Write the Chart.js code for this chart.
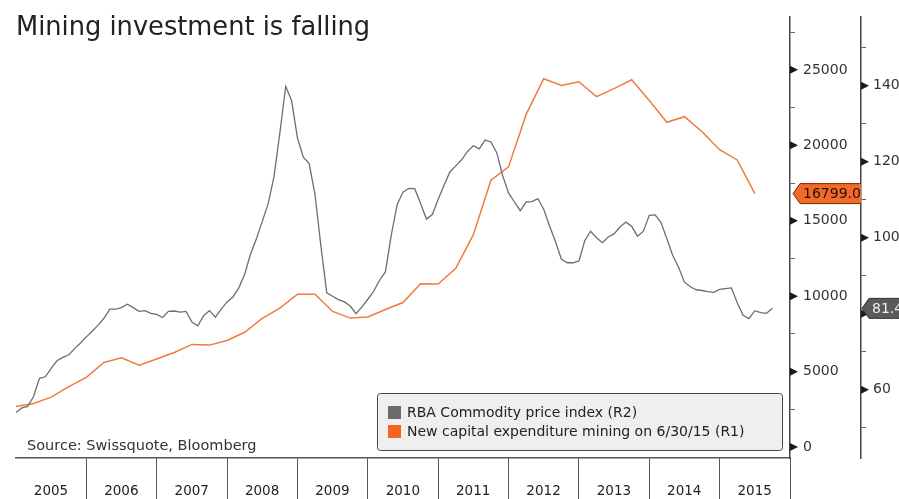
<!DOCTYPE html>
<html><head><meta charset="utf-8">
<script src="https://cdn.jsdelivr.net/npm/chart.js@4.4.0/dist/chart.umd.min.js"></script>
<style>html,body{margin:0;padding:0;background:#fff;overflow:hidden}#wrap{width:899px;height:499px}</style>
</head><body><div id="wrap"><canvas id="c" width="899" height="499"></canvas></div>
<script>
const TITLE = 'Mining investment is falling';
const SOURCE = 'Source: Swissquote, Bloomberg';
const LABEL_RBA = 'RBA Commodity price index (R2)';
const LABEL_CAPEX = 'New capital expenditure mining on 6/30/15 (R1)';
const YEARS = [2005,2006,2007,2008,2009,2010,2011,2012,2013,2014,2015];
const X_MIN = 2005, X_MAX = 2016;
// RBA commodity price index, monthly from Jan 2005 (R2)
const RBA = [
54.0,55.2,55.6,58.2,63.0,63.4,65.6,67.6,68.5,69.2,70.8,72.3,
73.9,75.4,77.0,78.8,81.2,81.2,81.6,82.5,81.6,80.6,80.8,80.1,
79.8,79.0,80.6,80.7,80.4,80.6,77.8,76.8,79.5,80.8,79.1,81.2,
83.1,84.4,86.8,90.4,95.7,99.7,104.3,108.9,116.1,127.6,139.8,136.1,
126.2,121.2,119.5,111.3,97.8,85.5,84.6,83.7,83.1,82.0,80.0,81.8,
83.8,85.9,88.8,91.0,100.7,108.7,112.0,113.0,112.9,109.0,104.9,106.1,
110.1,113.8,117.3,118.9,120.5,122.7,124.2,123.4,125.7,125.2,122.3,116.3,
111.8,109.4,107.1,109.4,109.5,110.3,107.5,103.1,99.0,94.4,93.4,93.4,
93.9,99.2,101.7,100.0,98.7,100.2,101.0,102.8,104.1,103.0,100.4,101.7,
105.9,106.0,104.0,99.7,95.3,92.2,88.3,87.1,86.3,86.1,85.8,85.6,
86.4,86.6,86.8,82.9,79.6,78.7,80.8,80.3,80.1,81.4];
// New capital expenditure mining, quarterly from Q1 2005 (R1)
const CAPEX = [2690,2887,3314,4003,4626,5611,5925,5427,5840,6267,
6805,6759,7067,7612,8531,9207,10138,10138,8990,8550,
8629,9121,9581,10827,10808,11844,14075,17685,18570,22048,
24411,23971,24214,23229,23754,24345,22967,21523,21897,20900,
19706,19030,16799];
const R1_TICKS = [0,2500,5000,7500,10000,12500,15000,17500,20000,22500,25000,27500];
const R1_MAJOR = [0,5000,10000,15000,20000,25000];
const R2_TICKS = [50,60,70,80,90,100,110,120,130,140,150];
const R2_MAJOR = [60,80,100,120,140];

const FONT = '"DejaVu Sans", sans-serif';
const GRAY = '#6e6e6e', ORANGE = '#f07b3f';

const rbaPts = RBA.map((v,i)=>({x: X_MIN + i/12, y: v}));
const capPts = CAPEX.map((v,i)=>({x: X_MIN + i/4, y: v}));

const deco = {
  id:'deco',
  afterDraw(chart){
    const c = chart.ctx, ca = chart.chartArea;
    const s1 = chart.scales.y1, s2 = chart.scales.y2;
    c.save();
    // arrows at major ticks
    c.fillStyle = '#1a1a1a';
    [[s1,R1_MAJOR],[s2,R2_MAJOR]].forEach(([s,maj])=>{
      maj.forEach(v=>{
        const y = s.getPixelForValue(v);
        c.beginPath(); c.moveTo(s.left, y-4); c.lineTo(s.left+8, y); c.lineTo(s.left, y+4); c.closePath(); c.fill();
      });
    });
    // title
    c.fillStyle = '#222'; c.font = '25.7px ' + FONT; c.textBaseline='alphabetic'; c.textAlign='left';
    c.fillText(TITLE, ca.left, 35);
    // source
    c.fillStyle = '#333'; c.font = '14.5px ' + FONT;
    c.fillText(SOURCE, ca.left + 11, ca.bottom - 8);
    // legend
    const bw = 405, bh = 57, bx = ca.right - 8 - bw, by = ca.bottom - 8 - bh;
    c.beginPath(); c.roundRect(bx+0.5, by+0.5, bw, bh, 3);
    c.fillStyle = '#efefef'; c.fill(); c.strokeStyle = '#444'; c.lineWidth = 1; c.stroke();
    c.font = '14px ' + FONT; c.textBaseline = 'middle';
    const sw = ['#6a6a6a', '#f26522'];
    chart.data.datasets.forEach((d,i)=>{
      const cy = by + 20 + i*19;
      c.fillStyle = sw[i]; c.fillRect(bx + 11, cy - 7, 13, 13);
      c.fillStyle = '#222'; c.fillText(d.label, bx + 30, cy);
    });
    // value tags
    const lastC = CAPEX[CAPEX.length-1], lastR = RBA[RBA.length-1];
    let y = s1.getPixelForValue(lastC);
    c.save(); c.beginPath(); c.rect(s1.left, 0, s2.left - s1.left, chart.height); c.clip();
    c.beginPath(); c.moveTo(s1.left+3, y); c.lineTo(s1.left+10, y-10); c.lineTo(s2.left+2, y-10); c.lineTo(s2.left+2, y+10); c.lineTo(s1.left+10, y+10); c.closePath();
    c.fillStyle = '#f26a2a'; c.fill(); c.strokeStyle = '#7a2a00'; c.lineWidth = 1; c.stroke();
    c.fillStyle = '#2a1000'; c.font = '14px ' + FONT; c.textBaseline='middle';
    c.fillText(lastC.toFixed(1), s1.left + 13, y + 1);
    c.restore();
    y = s2.getPixelForValue(lastR);
    c.beginPath(); c.moveTo(s2.left+1, y); c.lineTo(s2.left+8, y-10); c.lineTo(chart.width+2, y-10); c.lineTo(chart.width+2, y+10); c.lineTo(s2.left+8, y+10); c.closePath();
    c.fillStyle = '#5a5a5a'; c.fill(); c.strokeStyle='#333'; c.stroke();
    c.fillStyle = '#eeeeee'; c.font = '14px ' + FONT;
    c.fillText(lastR.toFixed(1), s2.left + 11, y + 1);
    c.restore();
  }
};

new Chart(document.getElementById('c'), {
  type:'line',
  data:{datasets:[
    {label: LABEL_RBA, data: rbaPts, yAxisID:'y2', borderColor: GRAY, borderWidth:1.3, pointRadius:0, tension:0, fill:false},
    {label: LABEL_CAPEX, data: capPts, yAxisID:'y1', borderColor: ORANGE, borderWidth:1.5, pointRadius:0, tension:0, fill:false}
  ]},
  options:{
    responsive:false, animation:false, devicePixelRatio:1,
    layout:{padding:{left:16, top:12, right:0, bottom:0}},
    plugins:{legend:{display:false}, tooltip:{enabled:false}, title:{display:false}},
    scales:{
      x:{type:'linear', position:'bottom', min:X_MIN, max:X_MAX,
        afterBuildTicks: s => { s.ticks = YEARS.concat([X_MAX]).map(v=>({value:v})); },
        afterFit: s => { s.height = 41; },
        grid:{drawOnChartArea:false, drawTicks:true, tickLength:41, tickWidth:1,
          tickColor: ctx => (ctx.tick && ctx.tick.value === X_MIN) ? 'rgba(0,0,0,0)' : '#555'},
        border:{display:true, color:'#555', width:1.5},
        ticks:{autoSkip:false, maxRotation:0, minRotation:0, padding:-16, labelOffset:35, color:'#222',
          font:{family:FONT, size:13.5}, callback: v => YEARS.includes(v) ? String(v) : ''}
      },
      y1:{type:'linear', position:'right', weight:0, min:-722, max:28543,
        afterBuildTicks: s => { s.ticks = R1_TICKS.map(v=>({value:v})); },
        afterFit: s => { s.width = 71; },
        grid:{drawOnChartArea:false, drawTicks:true, tickLength:5,
          tickColor: ctx => (ctx.tick && R1_MAJOR.includes(ctx.tick.value)) ? 'rgba(0,0,0,0)' : '#666'},
        border:{display:true, color:'#444', width:1.5},
        ticks:{padding:8, color:'#333', font:{family:FONT, size:14},
          callback: v => R1_MAJOR.includes(v) ? String(v) : ''}
      },
      y2:{type:'linear', position:'right', weight:1, min:42.02, max:158.24,
        afterBuildTicks: s => { s.ticks = R2_TICKS.map(v=>({value:v})); },
        afterFit: s => { s.width = 38; },
        grid:{drawOnChartArea:false, drawTicks:true, tickLength:5,
          tickColor: ctx => (ctx.tick && R2_MAJOR.includes(ctx.tick.value)) ? 'rgba(0,0,0,0)' : '#666'},
        border:{display:true, color:'#444', width:1.5},
        ticks:{padding:7, color:'#333', font:{family:FONT, size:14},
          callback: v => R2_MAJOR.includes(v) ? String(v) : ''}
      }
    }
  },
  plugins:[deco]
});
</script>
</body></html>
